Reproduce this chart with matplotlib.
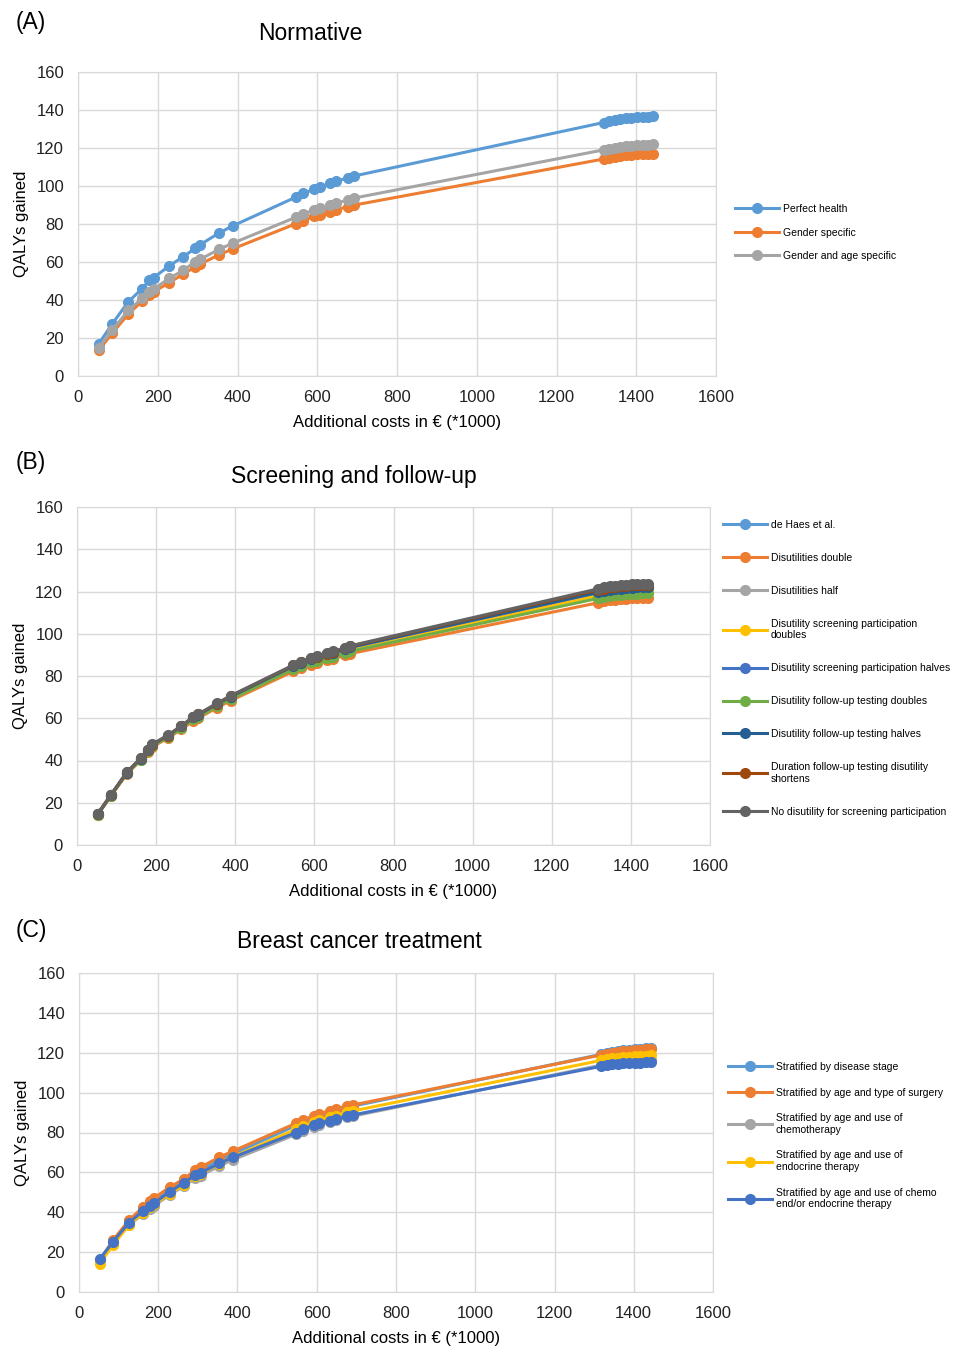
import matplotlib
matplotlib.use("Agg")
import matplotlib.pyplot as plt

plt.rcParams["font.family"] = ["Liberation Sans", "DejaVu Sans"]

# costs of the screening strategies (x1000 euro), shared by every scenario
costs = [52, 86, 126, 161, 179, 190, 229, 264, 294, 307, 354, 388,
         547, 565, 592, 606, 633, 648, 677, 691,
         1318, 1332, 1346, 1360, 1374, 1388, 1402, 1416, 1430, 1443]

# (A) Normative
perfect_health = [16.9, 27.5, 39.0, 46.0, 50.4, 51.8, 58.0, 62.8, 67.2, 69.2, 75.3, 79.0,
                  94.2, 96.2, 98.2, 99.5, 101.4, 102.5, 104.3, 105.2,
                  133.4, 134.2, 134.8, 135.3, 135.6, 135.9, 136.1, 136.3, 136.5, 136.6]
gender_specific = [13.6, 22.5, 32.6, 39.4, 42.5, 44.3, 49.2, 53.6, 57.5, 59.0, 63.8, 66.9,
                   80.2, 81.8, 84.0, 85.0, 86.4, 87.5, 89.2, 89.9,
                   114.2, 114.9, 115.4, 115.8, 116.1, 116.4, 116.6, 116.8, 116.9, 117.0]
gender_age = [15.0, 24.2, 34.5, 40.8, 44.0, 45.8, 51.4, 55.6, 60.2, 61.5, 66.7, 69.9,
              83.6, 85.3, 87.4, 88.4, 89.8, 90.8, 92.8, 93.6,
              119.0, 119.7, 120.2, 120.6, 120.9, 121.2, 121.4, 121.6, 121.8, 121.9]

# (B) Screening and follow-up
de_haes = [14.5, 23.6, 34.1, 40.7, 44.6, 47.1, 51.4, 55.8, 60.0, 61.3, 66.3, 69.8,
           84.2, 85.7, 87.5, 88.3, 89.6, 90.4, 92.2, 93.0,
           118.7, 119.3, 119.8, 120.1, 120.4, 120.6, 120.8, 120.9, 121.0, 121.1]
dis_double = [14.2, 23.2, 33.6, 40.1, 44.0, 46.4, 50.5, 54.8, 58.9, 60.1, 65.0, 68.3,
              82.2, 83.7, 85.4, 86.1, 87.4, 88.1, 89.8, 90.6,
              114.7, 115.3, 115.8, 116.1, 116.4, 116.6, 116.8, 116.9, 117.0, 117.1]
dis_half = [14.6, 23.7, 34.3, 41.0, 44.9, 47.4, 51.7, 56.1, 60.5, 61.8, 66.8, 70.3,
            84.8, 86.4, 88.2, 89.0, 90.3, 91.1, 92.9, 93.8,
            120.1, 120.7, 121.2, 121.5, 121.8, 122.0, 122.2, 122.3, 122.4, 122.5]
scr_doubles = [14.4, 23.5, 34.0, 40.6, 44.5, 47.0, 51.2, 55.6, 59.8, 61.1, 66.1, 69.5,
               83.9, 85.4, 87.2, 88.0, 89.3, 90.0, 91.8, 92.6,
               118.2, 118.8, 119.3, 119.6, 119.9, 120.1, 120.3, 120.4, 120.5, 120.6]
scr_halves = [14.5, 23.7, 34.3, 40.9, 44.8, 47.3, 51.6, 56.0, 60.3, 61.6, 66.6, 70.1,
              84.6, 86.1, 87.9, 88.7, 90.1, 90.9, 92.7, 93.5,
              119.5, 120.1, 120.6, 120.9, 121.2, 121.4, 121.6, 121.7, 121.8, 121.9]
fu_doubles = [14.3, 23.4, 33.9, 40.4, 44.3, 46.8, 50.9, 55.3, 59.5, 60.7, 65.6, 69.0,
              83.2, 84.7, 86.4, 87.1, 88.5, 89.2, 90.9, 91.7,
              116.8, 117.4, 117.9, 118.2, 118.5, 118.7, 118.9, 119.0, 119.1, 119.2]
fu_halves = [14.5, 23.7, 34.3, 40.9, 44.9, 47.4, 51.7, 56.1, 60.4, 61.7, 66.7, 70.2,
             84.7, 86.2, 88.0, 88.8, 90.2, 91.0, 92.8, 93.7,
             119.7, 120.3, 120.8, 121.1, 121.4, 121.6, 121.8, 121.9, 122.0, 122.1]
fu_shorter = [14.6, 23.8, 34.4, 41.0, 45.0, 47.5, 51.8, 56.3, 60.6, 61.9, 66.9, 70.5,
              85.0, 86.6, 88.4, 89.2, 90.6, 91.4, 93.2, 94.1,
              120.8, 121.4, 121.9, 122.2, 122.5, 122.7, 122.9, 123.0, 123.1, 123.2]
no_scr_dis = [14.6, 23.8, 34.4, 41.1, 45.1, 47.6, 51.9, 56.4, 60.7, 62.0, 67.1, 70.6,
              85.2, 86.8, 88.6, 89.4, 90.8, 91.6, 93.4, 94.3,
              121.3, 121.9, 122.4, 122.7, 123.0, 123.2, 123.4, 123.5, 123.6, 123.7]

# (C) Breast cancer treatment
by_stage = [16.0, 25.6, 35.4, 41.5, 44.5, 46.0, 51.5, 56.0, 60.0, 61.2, 66.0, 69.2,
            83.5, 85.2, 87.2, 88.2, 89.8, 90.7, 92.6, 93.2,
            119.2, 119.9, 120.5, 120.9, 121.3, 121.6, 121.8, 122.0, 122.2, 122.4]
by_surgery = [15.5, 26.0, 36.0, 42.4, 45.6, 47.2, 52.6, 56.6, 61.2, 62.6, 67.6, 70.6,
              84.6, 86.3, 88.3, 89.3, 91.0, 91.8, 93.3, 93.8,
              118.9, 119.6, 120.1, 120.5, 120.8, 121.1, 121.3, 121.5, 121.7, 121.8]
by_chemo = [15.8, 24.5, 33.5, 39.0, 41.8, 43.3, 48.8, 53.0, 57.2, 58.4, 63.2, 66.3,
            79.0, 80.7, 82.9, 83.8, 85.2, 86.1, 87.6, 88.2,
            113.8, 114.4, 114.9, 115.2, 115.5, 115.7, 115.9, 116.0, 116.1, 116.2]
by_endocrine = [14.2, 23.6, 33.6, 39.6, 42.4, 44.0, 49.4, 53.6, 58.0, 59.3, 64.4, 67.7,
                81.6, 83.2, 85.3, 86.2, 87.6, 88.5, 90.2, 90.8,
                116.2, 116.8, 117.3, 117.6, 117.9, 118.1, 118.3, 118.5, 118.6, 118.7]
by_chemo_endo = [16.4, 25.2, 34.8, 40.5, 43.2, 44.6, 50.3, 54.6, 58.7, 59.8, 64.5, 67.5,
                 79.9, 81.6, 83.8, 84.6, 85.9, 86.8, 88.3, 88.8,
                 113.2, 113.8, 114.2, 114.5, 114.7, 114.9, 115.0, 115.1, 115.2, 115.3]

labels_a = ["Perfect health", "Gender specific", "Gender and age specific"]
labels_b = ["de Haes et al.", "Disutilities double", "Disutilities half",
            "Disutility screening participation\ndoubles",
            "Disutility screening participation halves",
            "Disutility follow-up testing doubles",
            "Disutility follow-up testing halves",
            "Duration follow-up testing disutility\nshortens",
            "No disutility for screening participation"]
labels_c = ["Stratified by disease stage", "Stratified by age and type of surgery",
            "Stratified by age and use of\nchemotherapy",
            "Stratified by age and use of\nendocrine therapy",
            "Stratified by age and use of chemo\nend/or endocrine therapy"]

colors = ["#5B9BD5", "#ED7D31", "#A5A5A5", "#FFC000", "#4472C4",
          "#70AD47", "#255E91", "#9E480E", "#636363"]

fig = plt.figure(figsize=(9.57, 13.5), dpi=100)


def panel(rect, data, labels, letter, letter_y, title, title_x, title_y, leg_xy, spacing):
    ax = fig.add_axes(rect)
    for vals, lab, col in zip(data, labels, colors):
        ax.plot(costs, vals, color=col, lw=2.2, marker="o", ms=7, label=lab)
    ax.set_xlim(0, 1600)
    ax.set_ylim(0, 160)
    ax.set_xticks(range(0, 1601, 200))
    ax.set_yticks(range(0, 161, 20))
    ax.grid(color="#D9D9D9", lw=1)
    ax.set_axisbelow(True)
    for sp in ax.spines.values():
        sp.set_color("#D9D9D9")
    ax.tick_params(length=0, labelsize=12, colors="#222222")
    ax.tick_params(axis="x", pad=10)
    ax.tick_params(axis="y", pad=10)
    ax.set_xlabel("Additional costs in € (*1000)", fontsize=12, labelpad=7)
    ax.set_ylabel("QALYs gained", fontsize=12, labelpad=5)
    ax.legend(loc="upper left", bbox_to_anchor=leg_xy, bbox_transform=fig.transFigure,
              frameon=False, fontsize=7.5, handlelength=4.2, handletextpad=0.4,
              labelspacing=spacing, borderpad=0, borderaxespad=0)
    fig.text(31 / 957, 1 - letter_y / 1350, letter, fontsize=16.5, ha="center", va="center")
    fig.text(title_x / 957, 1 - title_y / 1350, title, fontsize=16.5, ha="center", va="center")
    return ax


panel([78 / 957, 1 - 376 / 1350, 638 / 957, 304 / 1350],
      [perfect_health, gender_specific, gender_age], labels_a,
      "(A)", 22, "Normative", 310, 34, (735 / 957, 1 - 204 / 1350), 1.3)

panel([77 / 957, 1 - 845 / 1350, 633 / 957, 338 / 1350],
      [de_haes, dis_double, dis_half, scr_doubles, scr_halves,
       fu_doubles, fu_halves, fu_shorter, no_scr_dis], labels_b,
      "(B)", 463, "Screening and follow-up", 354, 477, (723 / 957, 1 - 520 / 1350), 2.2)

panel([79 / 957, 1 - 1292 / 1350, 634 / 957, 319 / 1350],
      [by_stage, by_surgery, by_chemo, by_endocrine, by_chemo_endo], labels_c,
      "(C)", 931, "Breast cancer treatment", 359, 942, (728 / 957, 1 - 1062 / 1350), 1.5)

fig.savefig("out.png", dpi=100)
